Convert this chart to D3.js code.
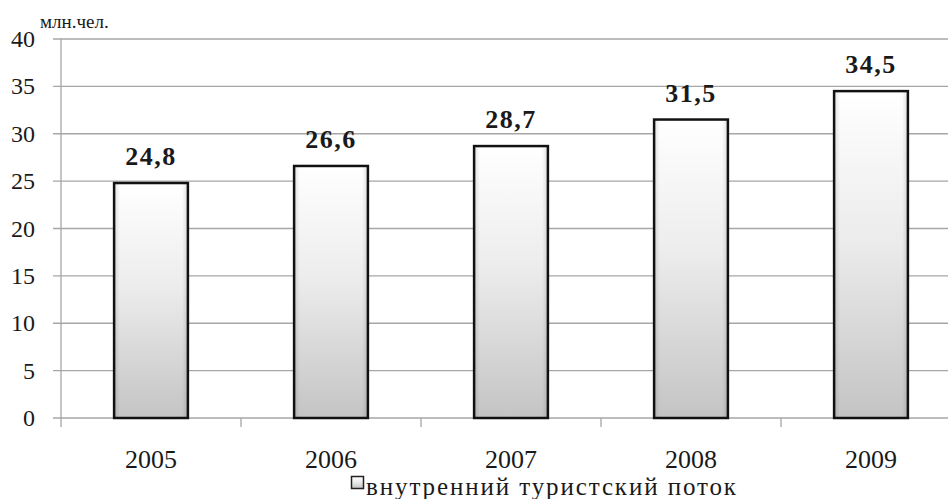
<!DOCTYPE html>
<html>
<head>
  <meta charset="utf-8" />
  <script src="https://d3js.org/d3.v7.min.js"></script>
  <style>
    body { margin: 0; background: #fff; }
    svg { display: block; }
    svg text { font-family: "Liberation Serif", "Times New Roman"; fill: #1a1a1a; }
  </style>
</head>
<body>
<svg width="948" height="499"></svg>
<script>
  const years = ["2005", "2006", "2007", "2008", "2009"];
  const values = [24.8, 26.6, 28.7, 31.5, 34.5];
  const labels = ["24,8", "26,6", "28,7", "31,5", "34,5"];
  const yTicks = [0, 5, 10, 15, 20, 25, 30, 35, 40];
  const seriesName = "внутренний туристский поток";
  const unit = "млн.чел.";

  const svg = d3.select("svg");
  const plotLeft = 61, plotRight = 961, plotTop = 39, plotBottom = 418;

  const x = d3.scaleBand().domain(years).range([plotLeft, plotRight]).paddingInner(0.59).paddingOuter(0.295);
  const y = d3.scaleLinear().domain([0, 40]).range([plotBottom, plotTop]);

  const defs = svg.append("defs");
  const vg = defs.append("linearGradient").attr("id", "vg").attr("x1", 0).attr("y1", 0).attr("x2", 0).attr("y2", 1);
  vg.append("stop").attr("offset", "0%").attr("stop-color", "#ffffff");
  vg.append("stop").attr("offset", "45%").attr("stop-color", "#ececec");
  vg.append("stop").attr("offset", "100%").attr("stop-color", "#c4c4c4");
  const hg = defs.append("linearGradient").attr("id", "hg").attr("x1", 0).attr("y1", 0).attr("x2", 1).attr("y2", 0);
  hg.append("stop").attr("offset", "0%").attr("stop-color", "#000").attr("stop-opacity", 0.12);
  hg.append("stop").attr("offset", "8%").attr("stop-color", "#000").attr("stop-opacity", 0);
  hg.append("stop").attr("offset", "92%").attr("stop-color", "#000").attr("stop-opacity", 0);
  hg.append("stop").attr("offset", "100%").attr("stop-color", "#000").attr("stop-opacity", 0.12);

  // gridlines
  svg.append("g").selectAll("line").data(yTicks).join("line")
    .attr("x1", plotLeft - 8).attr("x2", 948)
    .attr("y1", d => y(d)).attr("y2", d => y(d))
    .attr("stroke", "#a6a6a6").attr("stroke-width", 1.3);

  // y axis line
  svg.append("line").attr("x1", plotLeft).attr("x2", plotLeft).attr("y1", plotTop).attr("y2", plotBottom + 9)
    .attr("stroke", "#a6a6a6").attr("stroke-width", 1.3);

  // x tick marks at band boundaries
  const bounds = years.map(d => x(d) - x.step() * x.paddingInner() / 2).slice(1);
  svg.append("g").selectAll("line").data(bounds).join("line")
    .attr("x1", d => d).attr("x2", d => d).attr("y1", plotBottom).attr("y2", plotBottom + 9)
    .attr("stroke", "#a6a6a6").attr("stroke-width", 1.3);

  // y tick labels
  svg.append("g").selectAll("text").data(yTicks).join("text")
    .attr("x", 35).attr("y", d => y(d) + 8)
    .attr("text-anchor", "end").attr("font-size", 24)
    .text(d => d);

  svg.append("text").attr("x", 40).attr("y", 28).attr("font-size", 19).text(unit);

  // bars
  const bars = svg.append("g").selectAll("g").data(years).join("g");
  bars.append("rect")
    .attr("x", d => x(d)).attr("width", x.bandwidth())
    .attr("y", (d, i) => y(values[i])).attr("height", (d, i) => plotBottom - y(values[i]))
    .attr("fill", "url(#vg)");
  bars.append("rect")
    .attr("x", d => x(d)).attr("width", x.bandwidth())
    .attr("y", (d, i) => y(values[i])).attr("height", (d, i) => plotBottom - y(values[i]))
    .attr("fill", "url(#hg)")
    .attr("stroke", "#111").attr("stroke-width", 2.5);

  // value labels
  svg.append("g").selectAll("text").data(years).join("text")
    .attr("x", d => x(d) + x.bandwidth() / 2)
    .attr("y", (d, i) => y(values[i]) - 18)
    .attr("text-anchor", "middle").attr("font-size", 26).attr("font-weight", "bold")
    .attr("letter-spacing", 1.5)
    .text((d, i) => labels[i]);

  // category labels
  svg.append("g").selectAll("text").data(years).join("text")
    .attr("x", d => x(d) + x.bandwidth() / 2).attr("y", 468)
    .attr("text-anchor", "middle").attr("font-size", 26)
    .text(d => d);

  // legend
  svg.append("rect").attr("x", 351.5).attr("y", 476.5).attr("width", 12).attr("height", 12)
    .attr("fill", "url(#vg)").attr("stroke", "#222").attr("stroke-width", 1.5);
  svg.append("text").attr("x", 366).attr("y", 495).attr("font-size", 25)
    .attr("letter-spacing", 1.9).text(seriesName);
</script>
</body>
</html>
